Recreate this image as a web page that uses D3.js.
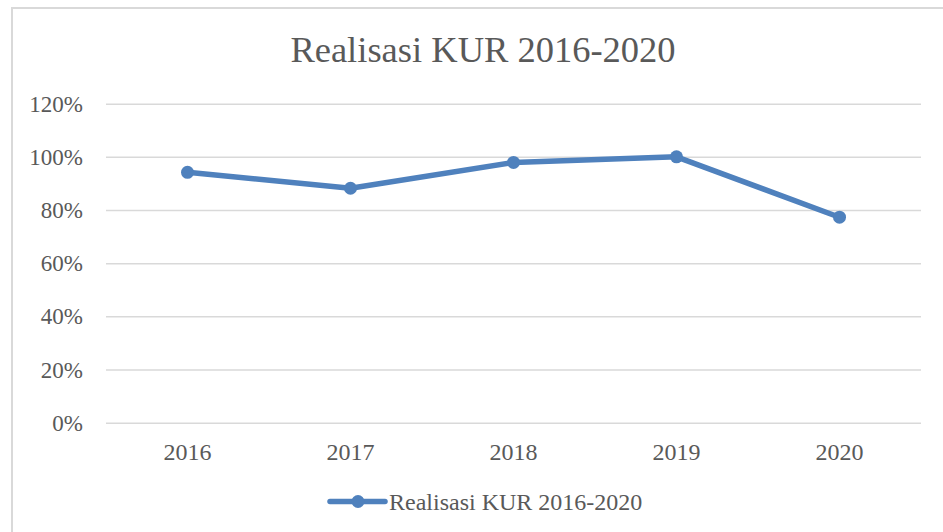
<!DOCTYPE html>
<html>
<head>
<meta charset="utf-8">
<script src="https://cdn.jsdelivr.net/npm/d3@7/dist/d3.min.js"></script>
<style>
  html, body { margin: 0; padding: 0; background: #fff; }
  svg { display: block; }
  text { font-family: "Liberation Serif", "Times New Roman", Times, serif; fill: #595959; }
</style>
</head>
<body>
<svg id="chart" width="943" height="532"></svg>
<script>
const title = "Realisasi KUR 2016-2020";
const seriesName = "Realisasi KUR 2016-2020";
const years = ["2016", "2017", "2018", "2019", "2020"];
const values = [0.942, 0.882, 0.979, 1.0, 0.773];
const yTicks = [0, 0.2, 0.4, 0.6, 0.8, 1.0, 1.2];

const svg = d3.select("#chart");
const color = "#4f81bd";
const serif = '"Liberation Serif", "Times New Roman", Times, serif';

// chart border (right & bottom edges lie outside the picture)
svg.append("rect")
  .attr("x", 12).attr("y", 8)
  .attr("width", 960).attr("height", 560)
  .attr("fill", "#fff")
  .attr("stroke", "#d9d9d9").attr("stroke-width", 2);

const plot = { left: 106, right: 921, top: 103.7, bottom: 422.7 };

const x = d3.scaleBand().domain(years).range([plot.left, plot.right]);
const y = d3.scaleLinear().domain([0, 1.2]).range([plot.bottom, plot.top]);

// gridlines + y labels
const yAxis = d3.axisLeft(y).tickValues(yTicks)
  .tickSize(-(plot.right - plot.left))
  .tickFormat(d3.format(".0%"))
  .tickPadding(23);
const gy = svg.append("g").attr("transform", `translate(${plot.left},0)`).call(yAxis)
  .attr("font-family", serif);
gy.select(".domain").remove();
gy.selectAll(".tick line").attr("stroke", "#d9d9d9").attr("stroke-width", 1.5);
gy.selectAll(".tick text")
  .attr("font-size", 23)
  .attr("fill", "#595959")
  .attr("dy", "0.33em")
  .style("font-family", serif);

// x axis labels
const xAxis = d3.axisBottom(x).tickSize(0).tickPadding(0);
const gx = svg.append("g").attr("transform", `translate(0,${plot.bottom})`).call(xAxis)
  .attr("font-family", serif);
gx.select(".domain").remove();
gx.selectAll(".tick text")
  .attr("font-size", 24)
  .attr("fill", "#595959")
  .attr("y", 37).attr("dy", 0)
  .style("font-family", serif);

// line
const line = d3.line()
  .x((d, i) => x(years[i]) + x.bandwidth() / 2)
  .y(d => y(d));
svg.append("path")
  .datum(values)
  .attr("d", line)
  .attr("fill", "none")
  .attr("stroke", color)
  .attr("stroke-width", 5.5)
  .attr("stroke-linejoin", "round")
  .attr("stroke-linecap", "round");

svg.selectAll("circle.pt")
  .data(values)
  .join("circle")
  .attr("class", "pt")
  .attr("cx", (d, i) => x(years[i]) + x.bandwidth() / 2)
  .attr("cy", d => y(d))
  .attr("r", 6.5)
  .attr("fill", color);

// title
svg.append("text")
  .attr("x", 483).attr("y", 62)
  .attr("text-anchor", "middle")
  .attr("font-size", 36.5)
  .style("font-family", serif)
  .text(title);

// legend
const lg = svg.append("g");
lg.append("line")
  .attr("x1", 330).attr("x2", 385)
  .attr("y1", 501.5).attr("y2", 501.5)
  .attr("stroke", color).attr("stroke-width", 5.5)
  .attr("stroke-linecap", "round");
lg.append("circle").attr("cx", 358).attr("cy", 501.5).attr("r", 6.5).attr("fill", color);
lg.append("text")
  .attr("x", 389).attr("y", 510)
  .attr("font-size", 24)
  .style("font-family", serif)
  .text(seriesName);
</script>
</body>
</html>
